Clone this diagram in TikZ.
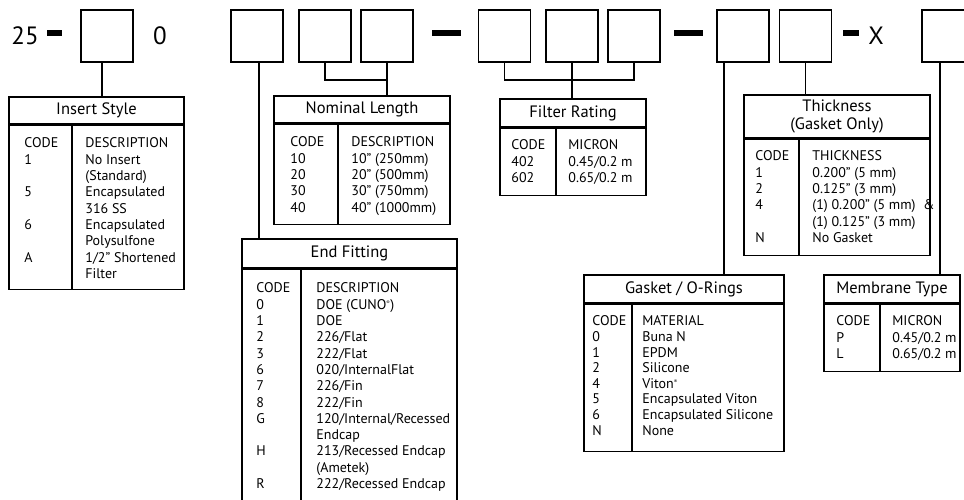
\documentclass[tikz,border=0pt]{standalone}
\usepackage{fontspec}
\setmainfont{PT Sans}
\usetikzlibrary{positioning,calc}
\tikzstyle{boxS}=[draw, line width=1.7pt, minimum width=52pt, minimum height=52pt, inner sep=0pt]
\tikzstyle{headS}=[draw, line width=1.6pt, inner sep=0pt, align=center, font=\fontsize{16.5}{17.5}\selectfont]
\tikzstyle{bodyS}=[draw, line width=1.6pt, inner sep=0pt, anchor=north]
\tikzstyle{colS}=[inner sep=0pt, align=left, anchor=north west, font=\fontsize{14}{16.3}\selectfont]
\tikzstyle{bigS}=[inner sep=0pt, font=\fontsize{25}{25}\selectfont]
\tikzstyle{eLine}=[line width=1.5pt]
\newcommand{\regd}{\textsuperscript{\tiny ®}}

\begin{document}
\begin{tikzpicture}[x=1pt,y=-1pt]
                \useasboundingbox (0,0) rectangle (964,499);
                % part number
                \node[bigS] (t25) at (25,36) {25};
                \node[bigS] (t0) at (160,36) {0};
                \node[bigS] (tX) at (876,36) {X};
                \fill (47,30) rectangle (62,36);
                \fill (432,30) rectangle (461,36);
                \fill (674,30) rectangle (703,36);
                \fill (843,30) rectangle (859,36);
                \draw (107,36) node[boxS] (b1) {};
                \draw (257,36) node[boxS] (b2) {};
                \draw (325,36) node[boxS] (b3) {};
                \draw (387,36) node[boxS] (b4) {};
                \draw (504.5,36) node[boxS] (b5) {};
                \draw (572,36) node[boxS] (b6) {};
                \draw (634,36) node[boxS] (b7) {};
                \draw (743,36) node[boxS] (b8) {};
                \draw (805.5,36) node[boxS] (b9) {};
                \draw (948,36) node[boxS] (b10) {};
                % insert style
                \draw (96.5,110.5) node[headS,minimum width=175pt,minimum height=27pt] (ins) {Insert Style};
                \draw (ins.south) node[bodyS,minimum width=175pt,minimum height=164pt] (insB) {};
                \draw[eLine] ([xshift=64pt]insB.north west) -- ([xshift=64pt]insB.south west);
                \node[colS] (insC) at ([xshift=16pt,yshift=-13pt]insB.north west) {CODE\\1\\\mbox{}\\5\\\mbox{}\\6\\\mbox{}\\A};
                \node[colS] (insD) at ([xshift=77pt,yshift=-13pt]insB.north west) {DESCRIPTION\\No Insert\\(Standard)\\Encapsulated\\316 SS\\Encapsulated\\Polysulfone\\1/2” Shortened\\Filter};
                % nominal length
                \draw (362,109.5) node[headS,minimum width=176pt,minimum height=27pt] (nom) {Nominal Length};
                \draw (nom.south) node[bodyS,minimum width=176pt,minimum height=100pt] (nomB) {};
                \draw[eLine] ([xshift=65pt]nomB.north west) -- ([xshift=65pt]nomB.south west);
                \node[colS] (nomC) at ([xshift=17pt,yshift=-13pt]nomB.north west) {CODE\\10\\20\\30\\40};
                \node[colS] (nomD) at ([xshift=78pt,yshift=-13pt]nomB.north west) {DESCRIPTION\\10” (250mm)\\20” (500mm)\\30” (750mm)\\40” (1000mm)};
                % filter rating
                \draw (573,113) node[headS,minimum width=146pt,minimum height=28pt] (fil) {Filter Rating};
                \draw (fil.south) node[bodyS,minimum width=146pt,minimum height=67pt] (filB) {};
                \draw[eLine] ([xshift=57pt]filB.north west) -- ([xshift=57pt]filB.south west);
                \node[colS] (filC) at ([xshift=12pt,yshift=-12pt]filB.north west) {CODE\\402\\602};
                \node[colS] (filD) at ([xshift=69pt,yshift=-12pt]filB.north west) {MICRON\\0.45/0.2 m\\0.65/0.2 m};
                % thickness
                \draw (837,116.5) node[headS,minimum width=186pt,minimum height=43pt] (thk) {Thickness\\(Gasket Only)};
                \draw (thk.south) node[bodyS,minimum width=186pt,minimum height=116pt] (thkB) {};
                \draw[eLine] ([xshift=56pt]thkB.north west) -- ([xshift=56pt]thkB.south west);
                \node[colS] (thkC) at ([xshift=12pt,yshift=-12pt]thkB.north west) {CODE\\1\\2\\4\\\mbox{}\\N};
                \node[colS] (thkD) at ([xshift=69pt,yshift=-12pt]thkB.north west) {THICKNESS\\0.200” (5 mm)\\0.125" (3 mm)\\(1) 0.200” (5 mm)\ \ \&\\(1) 0.125” (3 mm)\\No Gasket};
                % end fitting
                \draw (349.5,253.5) node[headS,minimum width=215pt,minimum height=29pt] (ef) {End Fitting};
                \draw (ef.south) node[bodyS,minimum width=215pt,minimum height=242pt] (efB) {};
                \draw[eLine] ([xshift=60pt]efB.north west) -- ([xshift=60pt]efB.south west);
                \node[colS] (efC) at ([xshift=15pt,yshift=-14pt]efB.north west) {CODE\\0\\1\\2\\3\\6\\7\\8\\G\\\mbox{}\\H\\\mbox{}\\R};
                \node[colS] (efD) at ([xshift=75pt,yshift=-14pt]efB.north west) {DESCRIPTION\\DOE (CUNO\regd)\\DOE\\226/Flat\\222/Flat\\020/InternalFlat\\226/Fin\\222/Fin\\120/Internal/Recessed\\Endcap\\213/Recessed Endcap\\(Ametek)\\222/Recessed Endcap};
                % gasket
                \draw (684,289) node[headS,minimum width=200pt,minimum height=28pt] (gas) {Gasket / O-Rings};
                \draw (gas.south) node[bodyS,minimum width=200pt,minimum height=147pt] (gasB) {};
                \draw[eLine] ([xshift=49pt]gasB.north west) -- ([xshift=49pt]gasB.south west);
                \node[colS,font=\fontsize{14}{15.6}\selectfont] (gasC) at ([xshift=9pt,yshift=-12pt]gasB.north west) {CODE\\0\\1\\2\\4\\5\\6\\N};
                \node[colS,font=\fontsize{14}{15.6}\selectfont] (gasD) at ([xshift=59pt,yshift=-12pt]gasB.north west) {MATERIAL\\Buna N\\EPDM\\Silicone\\Viton\regd\\Encapsulated Viton\\Encapsulated Silicone\\None};
                % membrane
                \draw (892,289) node[headS,minimum width=136pt,minimum height=28pt] (mem) {Membrane Type};
                \draw (mem.south) node[bodyS,minimum width=136pt,minimum height=67pt] (memB) {};
                \draw[eLine] ([xshift=57pt]memB.north west) -- ([xshift=57pt]memB.south west);
                \node[colS] (memC) at ([xshift=13pt,yshift=-12pt]memB.north west) {CODE\\P\\L};
                \node[colS] (memD) at ([xshift=69pt,yshift=-12pt]memB.north west) {MICRON\\0.45/0.2 m\\0.65/0.2 m};
                % leaders
                \coordinate (lv1) at (0,80);
                \coordinate (c1) at ([xshift=-5pt]b1.south);
                \coordinate (c2) at ([xshift=2pt]b2.south);
                \coordinate (c8) at ([xshift=-19pt]b8.south);
                \coordinate (c10) at ([xshift=-8pt]b10.south);
                \draw[eLine] (c1) -- (c1 |- ins.north);
                \draw[eLine] (c2) -- (c2 |- ef.north);
                \draw[eLine] (b3.south) |- (b4.south |- lv1);
                \draw[eLine] (b4.south) -- (b4.south |- nom.north);
                \draw[eLine] (b5.south) |- (b7.south |- lv1) -- (b7.south);
                \draw[eLine] (b6.south) -- (b6.south |- fil.north);
                \draw[eLine] (c8) -- (c8 |- gas.north);
                \draw[eLine] (b9.south) -- (b9.south |- thk.north);
                \draw[eLine] (c10) -- (c10 |- mem.north);
        \end{tikzpicture}
\end{document}
